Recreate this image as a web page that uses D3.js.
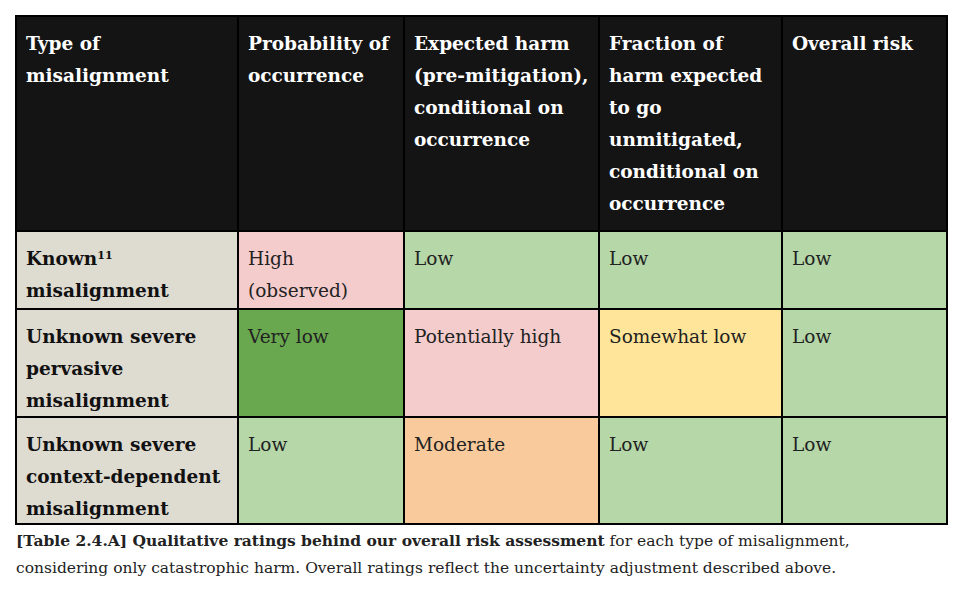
<!DOCTYPE html>
<html lang="en">
<head>
<meta charset="UTF-8">
<title>Table 2.4.A</title>
<script src="https://d3js.org/d3.v7.min.js"></script>
<style>
  body { margin: 0; background: #fff; }
  svg { display: block; font-family: "DejaVu Serif", serif; }
</style>
</head>
<body>
<svg id="chart" width="970" height="598"></svg>
<script>
// Table content
const headers = [
  ["Type of", "misalignment"],
  ["Probability of", "occurrence"],
  ["Expected harm", "(pre-mitigation),", "conditional on", "occurrence"],
  ["Fraction of", "harm expected", "to go", "unmitigated,", "conditional on", "occurrence"],
  ["Overall risk"]
];
const rowLabels = [
  ["Known", "misalignment"],
  ["Unknown severe", "pervasive", "misalignment"],
  ["Unknown severe", "context-dependent", "misalignment"]
];
const ratings = [
  [["High", "(observed)"], ["Low"], ["Low"], ["Low"]],
  [["Very low"], ["Potentially high"], ["Somewhat low"], ["Low"]],
  [["Low"], ["Moderate"], ["Low"], ["Low"]]
];
const ratingColor = {
  "High": "#f4cccc", "Potentially high": "#f4cccc",
  "Low": "#b6d7a8", "Very low": "#6aa84f",
  "Somewhat low": "#ffe599", "Moderate": "#f9cb9c"
};

// Layout
const colEdges = [16, 238, 404, 599, 782, 947];
const rowEdges = [16, 231, 309, 417, 524];
const x = d3.scaleOrdinal().domain(d3.range(5)).range(colEdges.slice(0, 5));
const w = i => colEdges[i + 1] - colEdges[i];
const y = d3.scaleOrdinal().domain(d3.range(4)).range(rowEdges.slice(0, 4));
const h = i => rowEdges[i + 1] - rowEdges[i];
const fs = 18.5, lh = 32;

const svg = d3.select("#chart");

// cells: row 0 header, then body rows
const cells = [];
headers.forEach((t, c) => cells.push({r: 0, c, lines: t, fill: "#141414", color: "#fff", bold: true}));
rowLabels.forEach((t, r) => {
  cells.push({r: r + 1, c: 0, lines: t, fill: "#dedbd1", color: "#111", bold: true, sup: r === 0});
  ratings[r].forEach((v, k) => cells.push({r: r + 1, c: k + 1, lines: v, fill: ratingColor[v.join(" ").replace(" (observed)", "")], color: "#222", bold: false}));
});

const g = svg.selectAll("g.cell").data(cells).enter().append("g").attr("class", "cell")
  .attr("transform", d => `translate(${x(d.c)},${y(d.r)})`);

g.append("rect")
  .attr("width", d => w(d.c)).attr("height", d => h(d.r))
  .attr("fill", d => d.fill).attr("stroke", "#000").attr("stroke-width", 2);

const txt = g.append("text")
  .attr("fill", d => d.color)
  .attr("font-weight", d => d.bold ? "bold" : "normal")
  .attr("font-size", fs);

txt.selectAll("tspan").data(d => d.lines.map((l, i) => ({l, i, sup: d.sup}))).enter()
  .append("tspan")
  .attr("x", 10)
  .attr("y", d => 34 + d.i * lh)
  .text(d => d.l)
  .each(function(d) {
    if (d.sup && d.i === 0) {
      d3.select(this.parentNode).append("tspan").attr("x", null)
        .attr("dy", null).attr("font-size", 11).attr("baseline-shift", "super")
        .text("11");
    }
  });
// keep superscript right after "Known"
txt.filter(d => d.sup).each(function() {
  const t = d3.select(this);
  const sup = t.select("tspan:last-child").node();
  const first = t.select("tspan").node();
  this.insertBefore(sup, first.nextSibling);
});

// caption
const cap = svg.append("text").attr("font-size", 15.5).attr("fill", "#222");
const c1 = cap.append("tspan").attr("x", 16).attr("y", 546);
c1.append("tspan").attr("font-weight", "bold").text("[Table 2.4.A] Qualitative ratings behind our overall risk assessment");
c1.append("tspan").text(" for each type of misalignment,");
cap.append("tspan").attr("x", 16).attr("y", 573)
  .text("considering only catastrophic harm. Overall ratings reflect the uncertainty adjustment described above.");
</script>
</body>
</html>
